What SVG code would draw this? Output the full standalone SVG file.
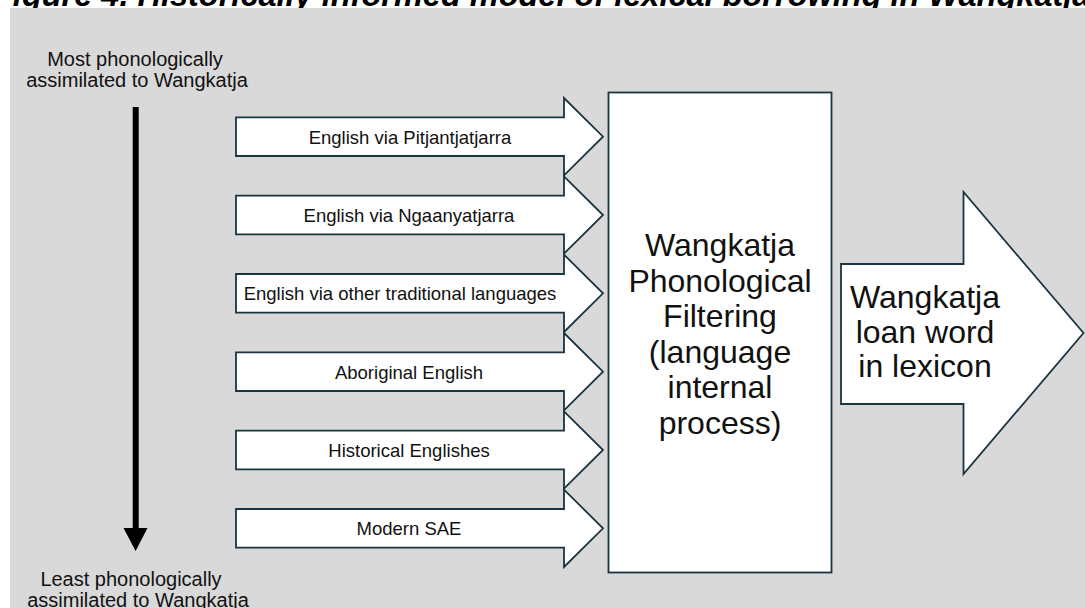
<svg xmlns="http://www.w3.org/2000/svg" width="1085" height="608" viewBox="0 0 1085 608">
<style>
  .shape { fill: #ffffff; stroke: #1a3442; stroke-width: 1.8; stroke-linejoin: miter; }
  .lbl { font-family: "Liberation Sans", Arial, sans-serif; fill: #111111; text-anchor: middle; }
  .small { font-size: 18.5px; }
  .side { font-size: 20px; }
  .big { font-size: 32px; }
  .title { font-family: "Liberation Sans", Arial, sans-serif; font-weight: bold; font-style: italic; font-size: 32.5px; fill: #000000; }
</style>
<rect x="0" y="0" width="1085" height="608" fill="#ffffff"/>
<text class="title" x="-7" y="6">Figure 4. Historically informed model of lexical borrowing in Wangkatja</text>
<rect x="10" y="8" width="1075" height="600" fill="#d9d9d9"/>

<g id="scale">
  <text class="lbl side" x="135" y="66">Most phonologically</text>
  <text class="lbl side" x="137" y="87">assimilated to Wangkatja</text>
  <rect x="132.7" y="107" width="6" height="422" fill="#000000"/>
  <polygon points="123.5,528 147.5,528 135.6,551" fill="#000000"/>
  <text class="lbl side" x="131" y="586">Least phonologically</text>
  <text class="lbl side" x="138" y="607">assimilated to Wangkatja</text>
</g>

<g id="connectors">
  <g id="src1">
    <polygon class="shape" points="236,117.4 564,117.4 564,98 603,136.7 564,175.4 564,156 236,156"/>
    <text class="lbl small" x="410" y="143.5">English via Pitjantjatjarra</text>
  </g>
  <g id="src2">
    <polygon class="shape" points="236,195.7 564,195.7 564,176.3 603,215 564,253.7 564,234.3 236,234.3"/>
    <text class="lbl small" x="409" y="221.8">English via Ngaanyatjarra</text>
  </g>
  <g id="src3">
    <polygon class="shape" points="236,274 564,274 564,254.6 603,293.3 564,332 564,312.6 236,312.6"/>
    <text class="lbl small" x="400" y="300.1">English via other traditional languages</text>
  </g>
  <g id="src4">
    <polygon class="shape" points="236,352.4 564,352.4 564,333 603,371.7 564,410.4 564,391 236,391"/>
    <text class="lbl small" x="409" y="378.5">Aboriginal English</text>
  </g>
  <g id="src5">
    <polygon class="shape" points="236,430.7 564,430.7 564,411.3 603,450 564,488.7 564,469.3 236,469.3"/>
    <text class="lbl small" x="409" y="456.8">Historical Englishes</text>
  </g>
  <g id="src6">
    <polygon class="shape" points="236,509 564,509 564,489.6 603,528.3 564,567 564,547.6 236,547.6"/>
    <text class="lbl small" x="409" y="535.1">Modern SAE</text>
  </g>
</g>

<g id="filter">
  <rect class="shape" x="608.5" y="92.5" width="223" height="480"/>
  <text class="lbl big" x="720" y="256">Wangkatja</text>
  <text class="lbl big" x="720" y="291.5">Phonological</text>
  <text class="lbl big" x="720" y="327">Filtering</text>
  <text class="lbl big" x="720" y="362.5">(language</text>
  <text class="lbl big" x="720" y="398">internal</text>
  <text class="lbl big" x="720" y="433.5">process)</text>
</g>

<g id="output">
  <polygon class="shape" points="841,264 963.5,264 963.5,192 1083.5,333 963.5,474 963.5,404 841,404"/>
  <text class="lbl big" x="925" y="308">Wangkatja</text>
  <text class="lbl big" x="925" y="343">loan word</text>
  <text class="lbl big" x="925" y="377">in lexicon</text>
</g>
</svg>
